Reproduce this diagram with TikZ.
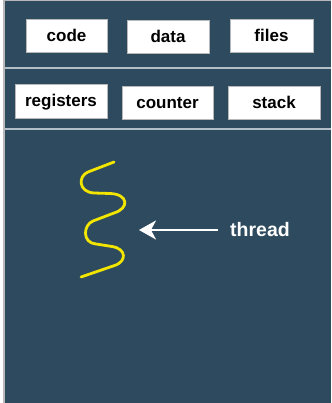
\documentclass[tikz,border=0pt]{standalone}
\usepackage{fontspec}
\setmainfont{Liberation Sans}
\usetikzlibrary{arrows.meta}
\definecolor{panel}{HTML}{2E4A5E}
\definecolor{rule}{HTML}{B4BEC8}
\definecolor{edge}{HTML}{B8B8B8}
\definecolor{wave}{HTML}{F2E500}
\tikzset{
  cell/.style={draw=edge, line width=0.8pt, fill=white, inner sep=0pt,
    minimum height=33pt, text height=12.5pt, text depth=0.5pt,
    font=\fontsize{17}{17}\selectfont\bfseries},
  sep/.style={draw=rule, line width=2pt},
  pointer/.style={draw=white, line width=2pt,
    -{Stealth[length=17pt,width=19pt,inset=5pt]}},
  label/.style={text=white, inner sep=0pt, text height=13pt, text depth=0pt,
    font=\fontsize{19.5}{19.5}\selectfont\bfseries}
}
\begin{document}
\begin{tikzpicture}[x=1pt,y=-1pt]
  \useasboundingbox (0,0) rectangle (331,403);
  % background panel with a thin frame on the left and top
  \fill[panel] (4,0) rectangle (331,403);
  \draw[edge, line width=1.2pt] (4,403) -- (4,0.5) -- (331,0.5);
  % row separators
  \draw[sep] (5,68) -- (331,68);
  \draw[sep] (5,129) -- (331,129);
  % shared resources
  \node[cell, minimum width=81pt] (code) at (66.5,36) {code};
  \node[cell, minimum width=82pt] (data) at (168,36.5) {data};
  \node[cell, minimum width=83pt] (files) at (271.5,35.5) {files};
  % per-thread state
  \node[cell, minimum width=92pt, minimum height=34pt] (regs) at (61,101) {registers};
  \node[cell, minimum width=91pt] (counter) at (167.5,102.5) {counter};
  \node[cell, minimum width=92pt] (stack) at (274,102.5) {stack};
  % the thread itself: straight runs joined by U-turns
  \draw[wave, line width=2.8pt, line cap=round, line join=round]
    (114,162) -- (88,172)
    .. controls (78,176) and (78,192) .. (94,193) -- (110,193.5)
    .. controls (128,194) and (130,208) .. (114,213) -- (93,221)
    .. controls (83,225) and (82,243) .. (96,244) -- (112,246.5)
    .. controls (127,249) and (126,261) .. (116,265) -- (81,277);
  \coordinate (tip) at (139,230);
  \node[label, anchor=west] (thread) at (230,230) {thread};
  \draw[pointer] ([xshift=-12pt]thread.west) -- (tip);
\end{tikzpicture}
\end{document}
